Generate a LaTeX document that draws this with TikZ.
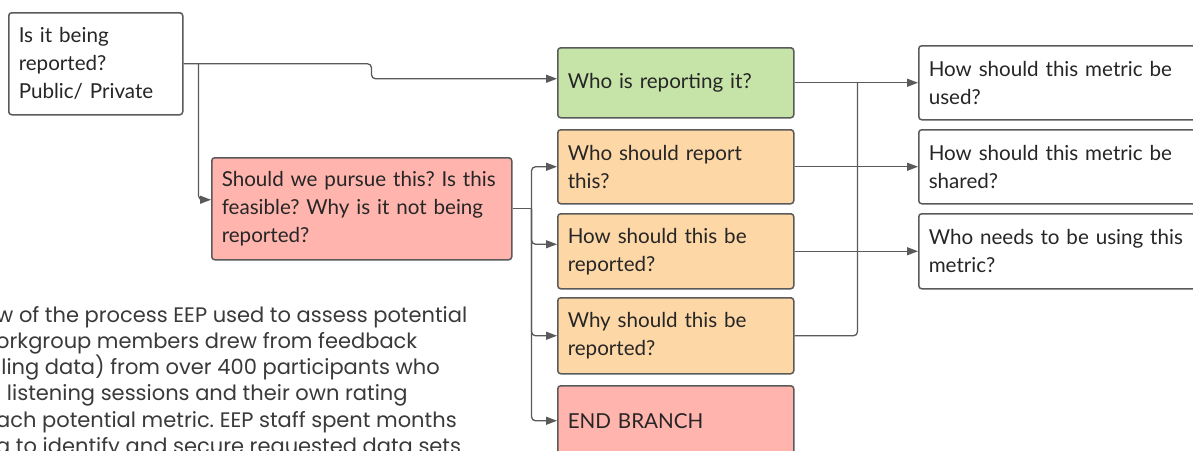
\documentclass[tikz,border=0pt]{standalone}
\usepackage{fontspec}
\setmainfont{Lato}
\newfontfamily\parafont{Poppins}
\usetikzlibrary{arrows.meta}
\definecolor{edge}{HTML}{5A5A5A}
\definecolor{gfill}{HTML}{C6E4A8}
\definecolor{ofill}{HTML}{FDD7A5}
\definecolor{pfill}{HTML}{FFB4AD}
\definecolor{txt}{HTML}{262626}
\definecolor{ptxt}{HTML}{3A3A3A}
\frenchspacing
\begin{document}
\begin{tikzpicture}[x=1pt,y=-1pt,
  box/.style={draw=edge, line width=1.5pt, rounded corners=3pt, anchor=north west,
    inner xsep=10pt, inner ysep=0pt, align=left, text=txt,
    font=\fontsize{20.6}{28}\selectfont},
  conn/.style={draw=edge, line width=1.3pt, rounded corners=4pt},
  arr/.style={conn, -{Triangle[length=11pt,width=8pt]}},
  para/.style={anchor=north west, inner sep=0pt, align=left, text=ptxt,
    font=\parafont\fontsize{21}{26.2}\selectfont}]
\useasboundingbox (0,0) rectangle (1193,450);
\clip (0,0) rectangle (1193,450);
\fill[white] (0,0) rectangle (1193,450);

\node[box, fill=white, minimum width=174pt, text width=154pt, minimum height=102pt] (a) at (8,12)
  {Is it being\\reported?\\Public/ Private};
\node[box, fill=gfill, minimum width=236pt, text width=216pt, minimum height=70pt] (g) at (557,47)
  {Who is reporting it?};
\node[box, fill=pfill, minimum width=300pt, text width=280pt, minimum height=102pt] (b) at (211,157)
  {Should we pursue this? Is this\\feasible? Why is it not being\\reported?};
\node[box, fill=ofill, minimum width=236pt, text width=216pt, minimum height=74pt] (c1) at (557,129)
  {Who should report\\this?};
\node[box, fill=ofill, minimum width=236pt, text width=216pt, minimum height=75pt] (c2) at (557,213)
  {How should this be\\reported?};
\node[box, fill=ofill, minimum width=236pt, text width=216pt, minimum height=76pt] (c3) at (557,297)
  {Why should this be\\reported?};
\node[box, fill=pfill, minimum width=236pt, text width=216pt, minimum height=70pt] (e) at (557,385)
  {END BRANCH};
\node[box, fill=white, minimum width=290pt, text width=270pt, minimum height=74pt] (r1) at (918,45)
  {How should this metric be\\used?};
\node[box, fill=white, minimum width=290pt, text width=270pt, minimum height=74pt] (r2) at (918,129)
  {How should this metric be\\shared?};
\node[box, fill=white, minimum width=290pt, text width=270pt, minimum height=75pt] (r3) at (918,213)
  {Who needs to be using this\\metric?};

\node[para] (p) at (-4,306)
  {w of the process EEP used to assess potential\\
   orkgroup members drew from feedback\\
   lling data) from over 400 participants who\\
   l listening sessions and their own rating\\
   ach potential metric. EEP staff spent months\\
   g to identify and secure requested data sets};

% connectors
\coordinate (aj) at ([xshift=15pt]a.east);
\draw[arr] (a.east) -- ([xshift=188pt]a.east) -- ([xshift=188pt,yshift=-15pt]a.east) -- ([yshift=4pt]g.west);
\draw[arr] (aj) |- ([yshift=9pt]b.west);

\coordinate (bj) at ([xshift=19pt]b.east);
\draw[conn] (b.east) -- (bj);
\draw[arr] (bj) |- (c1.west);
\draw[arr] (bj) |- ([yshift=7pt]c2.west);
\draw[arr] (bj) |- (c3.west);
\draw[arr] (bj) |- (e.west);

\draw[arr] (g.east) -- (r1.west);
\draw[arr] (c1.east) -- (r2.west);
\draw[arr] (c2.east) -- (r3.west);
\draw[conn] (c3.east) -| ([xshift=63pt]g.east);
\end{tikzpicture}
\end{document}
